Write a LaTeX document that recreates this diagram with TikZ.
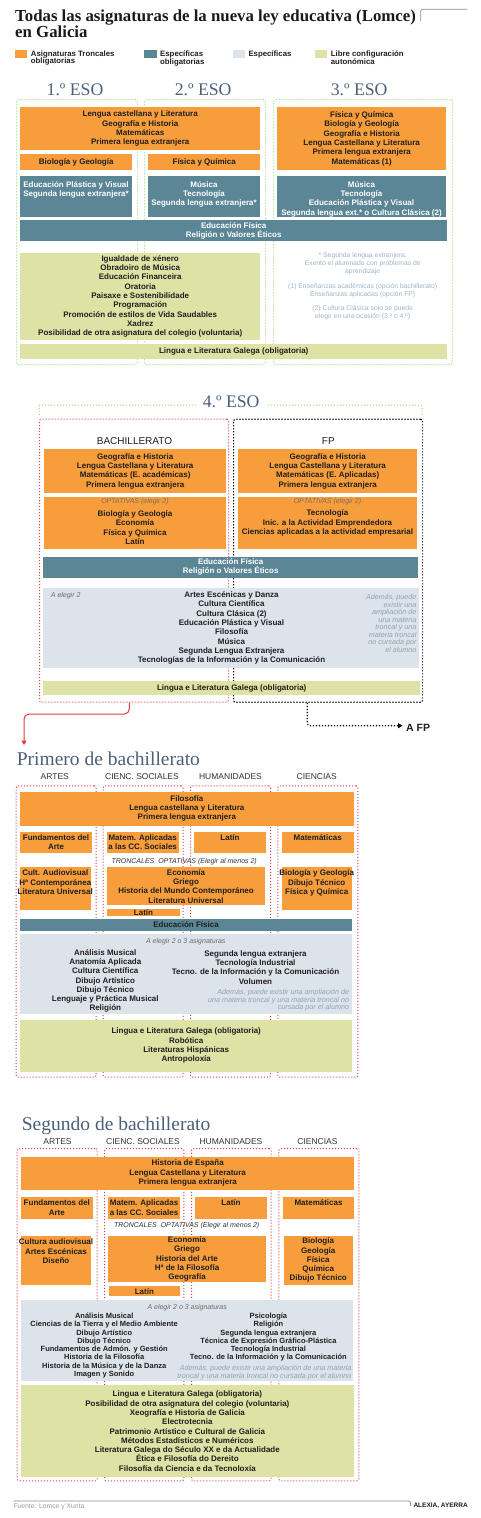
\documentclass[tikz,border=0pt]{standalone}
\usepackage{fontspec}
\setmainfont{Liberation Sans}
\newfontfamily\serifface{Liberation Serif}
\usetikzlibrary{arrows.meta}
\definecolor{cor}{HTML}{F79D3B}
\definecolor{cte}{HTML}{5B8696}
\definecolor{cgr}{HTML}{DDE3EA}
\definecolor{col}{HTML}{DEE2A5}
\definecolor{cgreen}{HTML}{8EDD6E}
\definecolor{cred}{HTML}{E0393E}
\definecolor{cslate}{HTML}{4D6079}
\definecolor{ctxt}{HTML}{1F1F1F}
\definecolor{ctitle}{HTML}{1A1A1A}
\definecolor{cnote}{HTML}{A0B4C4}
\definecolor{cnotetwo}{HTML}{8CA5B2}
\definecolor{cital}{HTML}{6A6A6A}
\definecolor{copt}{HTML}{7E6E5C}
\definecolor{chd}{HTML}{333333}
\definecolor{crule}{HTML}{8C8C8C}
\definecolor{cfoot}{HTML}{9C9C9C}
\newcommand{\drawbox}[7]{%
  \pgfmathsetmacro{\bxw}{#5-#3}%
  \pgfmathsetmacro{\bxh}{#6-#4}%
  \node[#1, anchor=north west, inner sep=0pt, minimum width=\bxw pt, minimum height=\bxh pt] (#2) at (#3,#4) {#7};%
}
\tikzset{
  tbe/.style={font=\fontsize{8}{9.3}\selectfont\bfseries, text=ctxt, align=center, inner sep=0pt},
  tbs/.style={font=\fontsize{7.5}{8.25}\selectfont\bfseries, text=ctxt, align=center, inner sep=0pt},
  ob/.style={fill=cor, tbe},
  tbx/.style={fill=cte, tbe, text=white},
  tbd/.style={fill=cte, tbe},
  gbx/.style={fill=cgr, tbe},
  lbx/.style={fill=col, tbe},
  gdot/.style={draw=cgreen, line width=1pt, dash pattern=on 1pt off 2pt, rounded corners=2pt},
  rdot/.style={draw=cred, line width=1pt, dash pattern=on 1pt off 2pt, rounded corners=2pt},
  kdot/.style={draw=black, line width=1.2pt, dash pattern=on 1.2pt off 1.8pt, rounded corners=2pt},
  hd/.style={font=\serifface\fontsize{17.7}{20}\selectfont, text=cslate, inner sep=0pt, anchor=base},
  hdtwo/.style={font=\serifface\fontsize{19.5}{22}\selectfont, text=cslate, inner sep=0pt, anchor=base west},
  ttl/.style={font=\serifface\bfseries\fontsize{16.8}{18}\selectfont, text=ctitle, inner sep=0pt, anchor=base west},
  colh/.style={font=\fontsize{8.5}{10}\selectfont, text=chd, inner sep=0pt, anchor=base},
  colhb/.style={font=\fontsize{10}{12}\selectfont, text=ctxt, inner sep=0pt, anchor=base},
  legt/.style={font=\fontsize{7.8}{7.7}\selectfont\bfseries, text=ctxt, align=left, inner sep=0pt, anchor=north west},
  enote/.style={font=\fontsize{6.8}{8}\selectfont, text=cnote, align=center, inner sep=0pt},
  itn/.style={font=\fontsize{7}{8}\selectfont\itshape, text=cital, inner sep=0pt},
  optl/.style={font=\fontsize{7}{8}\selectfont\itshape, text=copt, inner sep=0pt},
  trl/.style={font=\fontsize{7}{8}\selectfont\itshape, text=chd, inner sep=0pt},
  note/.style={font=\fontsize{7.2}{7.9}\selectfont\itshape, text=cnotetwo, inner sep=0pt, align=right, anchor=east},
  rule/.style={draw=crule, line width=0.7pt, rounded corners=2pt},
  tipx/.style={-{Triangle[length=4.5pt,width=5pt]}},
}
\begin{document}
\begin{tikzpicture}[x=1pt,y=-1pt]
\useasboundingbox (0,0) rectangle (480,1518);
\fill[white] (0,0) rectangle (480,1518);
% ---------- title
\node[ttl] (title1) at (15,21) {Todas las asignaturas de la nueva ley educativa (Lomce)};
\node[ttl] (title2) at (15,37.5) {en Galicia};
\coordinate (tba) at (420.7,21);
\coordinate (tbb) at (467,9.3);
\draw[rule] (tba) |- (tbb);
% ---------- legend
\drawbox{fill=cor}{lgo}{15}{49.3}{26.7}{57.3}{}
\drawbox{fill=cte}{lgt}{144}{49.3}{156.7}{57.3}{}
\drawbox{fill=cgr}{lgg}{232.3}{49.3}{245}{57.3}{}
\drawbox{fill=col}{lgl}{315}{49.3}{326.7}{57.3}{}
\node[legt] (lgot) at (30.7,50.4) {Asignaturas Troncales\\obligatorias};
\node[legt] (lgtt) at (160,50.4) {Específicas\\obligatorias};
\node[legt] (lggt) at (248.3,50.4) {Específicas};
\node[legt] (lglt) at (330.7,50.4) {Libre configuración\\autonómica};
% ---------- 1-3 ESO
\drawbox{gdot}{ge1}{16}{99}{137}{364}{}
\drawbox{gdot}{ge2}{144}{99}{265}{364}{}
\drawbox{gdot}{ge3}{273}{99}{452}{364}{}
\node[hd] (h1) at (75,95) {1.º ESO};
\node[hd] (h2) at (203.2,95) {2.º ESO};
\node[hd] (h3) at (359.2,95) {3.º ESO};
\drawbox{ob}{e1a}{20}{107}{260}{150}{Lengua castellana y Literatura\\Geografía e Historia\\Matemáticas\\Primera lengua extranjera}
\drawbox{ob}{e1b}{20}{154}{132}{170}{Biología y Geología}
\drawbox{ob}{e2b}{148}{154}{260}{170}{Física y Química}
\drawbox{ob}{e3a}{277}{107}{446}{170}{Física y Química\\Biología y Geología\\Geografía e Historia\\Lengua Castellana y Literatura\\Primera lengua extranjera\\Matemáticas (1)}
\drawbox{tbx}{e1c}{20}{176}{132}{217}{}
\node[tbe, text=white, anchor=north] (e1ct) at (76,181.3) {Educación Plástica y Visual\\Segunda lengua extranjera*};
\drawbox{tbx}{e2c}{148}{176}{260}{217}{}
\node[tbe, text=white, anchor=north] (e2ct) at (204,181.3) {Música\\Tecnología\\Segunda lengua extranjera*};
\drawbox{tbx}{e3c}{277}{176}{446}{217}{}
\node[tbe, text=white, anchor=north] (e3ct) at (361.5,181.3) {Música\\Tecnología\\Educación Plástica y Visual\\Segunda lengua ext.* o Cultura Clásica (2)};
\drawbox{tbx}{eef}{20}{220}{447}{241}{Educación Física\\Religión o Valores Éticos}
\drawbox{lbx}{elc}{20}{252.3}{260}{340}{Igualdade de xénero\\Obradoiro de Música\\Educación Financeira\\Oratoria\\Paisaxe e Sostenibilidade\\Programación\\Promoción de estilos de Vida Saudables\\Xadrez\\Posibilidad de otra asignatura del colegio (voluntaria)}
\drawbox{lbx}{elg}{20}{344}{447}{358.7}{Lingua e Literatura Galega (obligatoria)}
\node[enote] (en1) at (362.7,263.7) {* Segunda lengua extranjera.\\Exento el alumnado con problemas de\\aprendizaje};
\node[enote] (en2) at (362.7,290.7) {(1) Enseñanzas académicas (opción bachillerato)\\Enseñanzas aplicadas (opción FP)};
\node[enote] (en3) at (362.7,312.3) {(2) Cultura Clásica solo se puede\\elegir en una ocasión (3.º o 4.º)};
% ---------- 4 ESO
\node[hd] (h4) at (231.2,407) {4.º ESO};
\coordinate (gfa) at (39,415);
\coordinate (gfb) at (196,405);
\coordinate (gfc) at (268,405);
\coordinate (gfd) at (422,415);
\draw[gdot] (gfa) |- (gfb);
\draw[gdot] (gfc) -| (gfd);
\drawbox{rdot}{bach}{39}{418.7}{228}{701.7}{}
\drawbox{kdot}{fp}{233}{418.7}{422}{701.7}{}
\node[colhb] (hbach) at (134.5,444.3) {BACHILLERATO};
\node[colhb] (hfp) at (328.3,444.3) {FP};
\drawbox{ob}{bfa}{44}{449}{226}{493}{Geografía e Historia\\Lengua Castellana y Literatura\\Matemáticas (E. académicas)\\Primera lengua extranjera}
\drawbox{ob}{ffa}{238}{449}{417}{493}{Geografía e Historia\\Lengua Castellana y Literatura\\Matemáticas (E. Aplicadas)\\Primera lengua extranjera}
\drawbox{ob}{bfb}{44}{496.7}{226}{548.7}{}
\node[optl] (bfbo) at (135,502) {OPTATIVAS (elegir 2)};
\node[tbe] (bfbt) at (135,527.5) {Biología y Geología\\Economía\\Física y Química\\Latín};
\drawbox{ob}{ffb}{238}{496.7}{417}{548.7}{}
\node[optl] (ffbo) at (327.5,502) {OPTATIVAS (elegir 2)};
\node[tbe] (ffbt) at (327.5,523) {Tecnología\\Inic. a la Actividad Emprendedora\\Ciencias aplicadas a la actividad empresarial};
\drawbox{tbx}{eff}{43}{556.3}{418}{577.3}{Educación Física\\Religión o Valores Éticos}
\drawbox{gbx}{efg}{43}{588}{419}{667.3}{}
\node[itn, anchor=west] (efga) at (50.7,595.3) {A elegir 2};
\node[tbe] (efgl) at (231.5,628) {Artes Escénicas y Danza\\Cultura Científica\\Cultura Clásica (2)\\Educación Plástica y Visual\\Filosofía\\Música\\Segunda Lengua Extranjera\\Tecnologías de la Información y la Comunicación};
\node[note, font=\fontsize{7.2}{7.55}\selectfont\itshape] (efgn) at (416.7,623.5) {Además, puede\\existir una\\ampliación de\\una materia\\troncal y una\\materia troncal\\no cursada por\\el alumno};
\drawbox{lbx}{efl}{43}{680.7}{420}{695}{Lingua e Literatura Galega (obligatoria)}
% arrows
\coordinate (arrp) at (24,745);
\draw[cred, line width=1pt, rounded corners=5pt, tipx] ([xshift=90.3pt]bach.south west) -- ++(0,11.3) -| (arrp);
\node[font=\fontsize{10.5}{12}\selectfont\bfseries, text=ctxt, anchor=west, inner sep=0pt] (afp) at (406,727.8) {A FP};
\coordinate (afpin) at (402.5,725.7);
\draw[black, line width=1.2pt, dash pattern=on 1.2pt off 1.8pt, rounded corners=3pt, tipx] ([xshift=74.3pt]fp.south west) |- (afpin);
% ---------- Primero de bachillerato
\node[hdtwo] (hpa) at (16.7,765) {Primero de bachillerato};
\node[colh] (pha) at (54.8,779.7) {ARTES};
\node[colh] (phb) at (142,779.7) {CIENC. SOCIALES};
\node[colh] (phc) at (230.5,779.7) {HUMANIDADES};
\node[colh] (phd) at (316.7,779.7) {CIENCIAS};
\drawbox{rdot}{pca}{15.7}{785.3}{95.7}{1076.7}{}
\drawbox{rdot}{pcb}{102.7}{785.3}{182.7}{1076.7}{}
\drawbox{rdot}{pcc}{190}{785.3}{270}{1076.7}{}
\drawbox{rdot}{pcd}{277.3}{785.3}{357.3}{1076.7}{}
\drawbox{ob}{pba}{20}{791.3}{353.3}{825.3}{Filosofía\\Lengua castellana y Literatura\\Primera lengua extranjera}
\drawbox{ob}{pbb}{20}{831.3}{91.7}{853}{Fundamentos del\\Arte}
\drawbox{ob}{pbc}{106.7}{831.3}{178.3}{853}{Matem. Aplicadas\\a las CC. Sociales}
\drawbox{ob}{pbd}{194}{831.3}{265.7}{853}{Latín\\\mbox{}}
\drawbox{ob}{pbe}{281.7}{831.3}{353.3}{853}{Matemáticas\\\mbox{}}
\node[trl] (ptr) at (184.2,861.3) {TRONCALES\hspace{2pt} OPTATIVAS (Elegir al menos 2)};
\drawbox{ob}{pbf}{20}{867}{90.7}{909.7}{}
\node[tbe, anchor=north] (pbft) at (55.3,869.7) {Cult. Audiovisual\\Hª Contemporánea\\Literatura Universal};
\drawbox{ob}{pbg}{106.7}{867}{265}{905}{Economía\\Griego\\Historia del Mundo Contemporáneo\\Literatura Universal}
\drawbox{ob}{pbh}{281.7}{867}{351.7}{909.7}{}
\node[tbe, anchor=north] (pbht) at (316.7,869.7) {Biología y Geología\\Dibujo Técnico\\Física y Química};
\drawbox{ob}{pbi}{106.7}{909}{180}{915.7}{Latín}
\drawbox{tbd}{pbj}{20}{919}{351.7}{930.7}{Educación Física}
\drawbox{gbx}{pbk}{20}{934}{352}{1014}{}
\node[itn] (pbka) at (185.8,941.7) {A elegir 2 o 3 asignaturas};
\node[tbe] (pbkl) at (105.3,981) {Análisis Musical\\Anatomía Aplicada\\Cultura Científica\\Dibujo Artístico\\Dibujo Técnico\\Lenguaje y Práctica Musical\\Religión};
\node[tbe] (pbkr) at (255.5,967.2) {Segunda lengua extranjera\\Tecnología Industrial\\Tecno. de la Información y la Comunicación\\Volumen};
\node[note] (pbkn) at (349.3,1000.1) {Además, puede existir una ampliación de\\una materia troncal y una materia troncal no\\cursada por el alumno};
\drawbox{lbx}{pbl}{20}{1019.3}{352}{1071.7}{Lingua e Literatura Galega (obligatoria)\\Robótica\\Literaturas Hispánicas\\Antropoloxía}
% ---------- Segundo de bachillerato
\node[hdtwo] (hsa) at (21.7,1130.3) {Segundo de bachillerato};
\node[colh] (sha) at (57.5,1144.7) {ARTES};
\node[colh] (shb) at (143,1144.7) {CIENC. SOCIALES};
\node[colh] (shc) at (231,1144.7) {HUMANIDADES};
\node[colh] (shd) at (317.5,1144.7) {CIENCIAS};
\drawbox{rdot}{sca}{16.7}{1148}{96.7}{1480.3}{}
\drawbox{rdot}{scb}{104}{1148}{183.3}{1480.3}{}
\drawbox{rdot}{scc}{191}{1148}{270.7}{1480.3}{}
\drawbox{rdot}{scd}{278.3}{1148}{358.3}{1480.3}{}
\drawbox{ob}{sba}{21}{1156.3}{354}{1189.7}{Historia de España\\Lengua Castellana y Literatura\\Primera lengua extranjera}
\drawbox{ob}{sbb}{21}{1196.3}{92.3}{1218.7}{Fundamentos del\\Arte}
\drawbox{ob}{sbc}{107.7}{1196.3}{180}{1218.7}{Matem. Aplicadas\\a las CC. Sociales}
\drawbox{ob}{sbd}{195}{1196.3}{266.7}{1218.7}{Latín\\\mbox{}}
\drawbox{ob}{sbe}{282.7}{1196.3}{354}{1218.7}{Matemáticas\\\mbox{}}
\node[trl] (str) at (186.7,1225.7) {TRONCALES\hspace{2pt} OPTATIVAS (Elegir al menos 2)};
\drawbox{ob}{sbf}{21}{1235.7}{91}{1284.3}{}
\node[tbe, anchor=north] (sbft) at (56,1238.7) {Cultura audiovisual\\Artes Escénicas\\Diseño};
\drawbox{ob}{sbg}{107.7}{1235.7}{266}{1281.7}{Economía\\Griego\\Historia del Arte\\Hª de la Filosofía\\Geografía}
\drawbox{ob}{sbh}{283.3}{1235.7}{352.7}{1284.3}{Biología\\Geología\\Física\\Química\\Dibujo Técnico}
\drawbox{ob}{sbi}{108.3}{1286}{180}{1296}{Latín}
\drawbox{gbx}{sbk}{21}{1299.3}{352.3}{1381}{}
\node[itn] (sbka) at (187.2,1307.3) {A elegir 2 o 3 asignaturas};
\node[tbs] (sbkl) at (104.2,1345.5) {Análisis Musical\\Ciencias de la Tierra y el Medio Ambiente\\Dibujo Artístico\\Dibujo Técnico\\Fundamentos de Admón. y Gestión\\Historia de la Filosofía\\Historia de la Música y de la Danza\\Imagen y Sonido};
\node[tbs] (sbkr) at (268.4,1337.3) {Psicología\\Religión\\Segunda lengua extranjera\\Técnica de Expresión Gráfico-Plástica\\Tecnología Industrial\\Tecno. de la Información y la Comunicación};
\node[note, font=\fontsize{7.2}{8.4}\selectfont\itshape] (sbkn) at (351.7,1372.5) {Además, puede existir una ampliación de una materia\\troncal y una materia troncal no cursada por el alumno};
\drawbox{lbx}{sbl}{21}{1385}{353.3}{1477}{Lingua e Literatura Galega (obligatoria)\\Posibilidad de otra asignatura del colegio (voluntaria)\\Xeografía e Historia de Galicia\\Electrotecnia\\Patrimonio Artístico e Cultural de Galicia\\Métodos Estadísticos e Numéricos\\Literatura Galega do Século XX e da Actualidade\\Ética e Filosofía do Dereito\\Filosofía da Ciencia e da Tecnoloxía}
% ---------- footer
\coordinate (fta) at (13.3,1501);
\coordinate (ftb) at (410.5,1505.5);
\draw[rule] (fta) -| (ftb);
\node[font=\fontsize{6.8}{8}\selectfont, text=cfoot, anchor=base west, inner sep=0pt] (src) at (13.3,1508) {Fuente: Lomce y Xunta};
\node[font=\fontsize{6.5}{8}\selectfont\bfseries, text=ctxt, anchor=base west, inner sep=0pt] (auth) at (413.3,1507) {ALEXIA, AYERRA};
\end{tikzpicture}
\end{document}
